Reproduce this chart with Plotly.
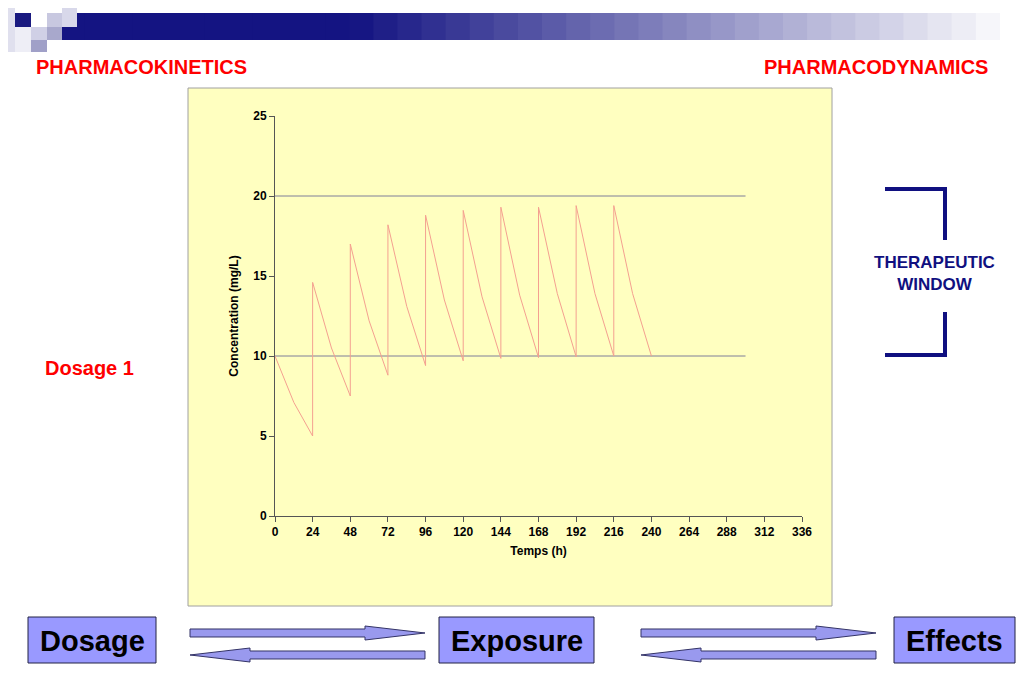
import plotly.graph_objects as go

times = [0, 12, 24, 24, 36, 48, 48, 60, 72, 72, 84, 96, 96, 108, 120, 120, 132, 144, 144, 156, 168, 168, 180, 192, 192, 204, 216, 216, 228, 240]
conc = [10.0, 7.1, 5.0, 14.6, 10.5, 7.5, 17.0, 12.2, 8.8, 18.2, 13.1, 9.4, 18.8, 13.5, 9.7, 19.1, 13.7, 9.85, 19.3, 13.8, 9.9, 19.3, 13.9, 9.95, 19.4, 13.9, 10.0, 19.4, 13.9, 10.0]
window_x = [0, 300]
window_low = [10, 10]
window_high = [20, 20]
x_ticks = list(range(0, 337, 24))
y_ticks = [0, 5, 10, 15, 20, 25]

OFF = 8
W, H = 1024 - 2 * OFF, 682 - 2 * OFF
def px(x): return (x - OFF) / W
def py(y): return 1 - (y - OFF) / H

F = "Liberation Sans, Arial, sans-serif"
fig = go.Figure()
fig.add_trace(go.Scatter(x=window_x, y=window_low, mode="lines", line=dict(color="#7f7f99", width=1), hoverinfo="skip"))
fig.add_trace(go.Scatter(x=window_x, y=window_high, mode="lines", line=dict(color="#7f7f99", width=1), hoverinfo="skip"))
fig.add_trace(go.Scatter(x=times, y=conc, mode="lines", line=dict(color="#f4a090", width=1)))

shapes = []
shapes.append(dict(type="rect", xref="paper", yref="paper", x0=px(188), x1=px(832), y0=py(606), y1=py(88),
                   fillcolor="#ffffc0", line=dict(color="#a0a0a0", width=1), layer="below"))
n = 40
x_start, x_end = 60, 1024
for i in range(n):
    t = i / (n - 1)
    c0 = (20, 20, 130); c1 = (255, 255, 255)
    tt = max(0, (t - 0.3) / 0.7)
    col = tuple(int(c0[k] + (c1[k] - c0[k]) * tt) for k in range(3))
    xa = x_start + (x_end - x_start) * i / n
    xb = x_start + (x_end - x_start) * (i + 1) / n + 1
    shapes.append(dict(type="rect", xref="paper", yref="paper", x0=px(xa), x1=px(xb), y0=py(40), y1=py(13),
                       fillcolor="rgb(%d,%d,%d)" % col, line=dict(width=0)))
for (x0, y0, x1, y1, c) in [(0, 0, 15, 52, "#e0e0ee"), (15, 13, 31, 27, "#1a1a80"), (31, 27, 47, 40, "#d0d0e6"),
                            (47, 13, 62, 27, "#c8c8e0"), (62, 0, 77, 27, "#d8d8ea"), (47, 27, 62, 40, "#a8a8cc"),
                            (31, 40, 47, 52, "#a0a0c8"), (15, 27, 31, 52, "#eeeef6")]:
    shapes.append(dict(type="rect", xref="paper", yref="paper", x0=px(x0), x1=px(x1), y0=py(y1), y1=py(y0),
                       fillcolor=c, line=dict(width=0)))
shapes.append(dict(type="path", xref="paper", yref="paper",
                   path="M %f %f L %f %f L %f %f" % (px(885), py(189), px(945), py(189), px(945), py(240)),
                   line=dict(color="#101080", width=4)))
shapes.append(dict(type="path", xref="paper", yref="paper",
                   path="M %f %f L %f %f L %f %f" % (px(945), py(312), px(945), py(355), px(885), py(355)),
                   line=dict(color="#101080", width=4)))
def arrow_right(x0, x1, yc):
    return [(x0, yc - 4), (x1 - 60, yc - 4), (x1 - 60, yc - 7), (x1, yc), (x1 - 60, yc + 7), (x1 - 60, yc + 4), (x0, yc + 4)]
def arrow_left(x0, x1, yc):
    return [(x1, yc - 4), (x0 + 60, yc - 4), (x0 + 60, yc - 7), (x0, yc), (x0 + 60, yc + 7), (x0 + 60, yc + 4), (x1, yc + 4)]
for pts in [arrow_right(190, 425, 633), arrow_left(190, 425, 655), arrow_right(641, 876, 633), arrow_left(641, 876, 655)]:
    path = "M " + " L ".join("%f %f" % (px(a), py(b)) for a, b in pts) + " Z"
    shapes.append(dict(type="path", xref="paper", yref="paper", path=path,
                       fillcolor="#9999ee", line=dict(color="#333366", width=1)))
ann = []
for (x0, x1, label) in [(28, 156, "Dosage"), (439, 594, "Exposure"), (894, 1015, "Effects")]:
    shapes.append(dict(type="rect", xref="paper", yref="paper", x0=px(x0), x1=px(x1), y0=py(663), y1=py(617),
                       fillcolor="#9999ff", line=dict(color="#222244", width=1)))
    ann.append(dict(x=px((x0 + x1) / 2), y=py(641), xref="paper", yref="paper", text="<b>%s</b>" % label,
                    xanchor="center", yanchor="middle",
                    showarrow=False, font=dict(family=F, size=29, color="black")))

for (x, y, txt, size, color) in [(141, 67, "PHARMACOKINETICS", 20, "red"), (876, 67, "PHARMACODYNAMICS", 20, "red"),
                                 (89, 368, "Dosage 1", 20, "red"),
                                 (934, 273, "THERAPEUTIC<br>WINDOW", 17, "#101080")]:
    ann.append(dict(x=px(x), y=py(y), xref="paper", yref="paper", text="<b>%s</b>" % txt, showarrow=False,
                    xanchor="center", yanchor="middle",
                    font=dict(family=F, size=size, color=color)))

tf = dict(family=F, size=12, color="black", weight="bold")
fig.update_layout(
    width=W, height=H, margin=dict(l=0, r=0, t=0, b=0), showlegend=False,
    paper_bgcolor="white", plot_bgcolor="rgba(0,0,0,0)", shapes=shapes, annotations=ann,
    xaxis=dict(domain=[px(275), px(802)], range=[0, 336], tickvals=x_ticks, ticks="outside", ticklen=5,
               tickcolor="#555", showline=True, linecolor="#555", showgrid=False, zeroline=False,
               tickfont=tf, automargin=False,
               title=dict(text="<b>Temps (h)</b>", font=dict(family=F, size=12, color="black"), standoff=8)),
    yaxis=dict(domain=[py(516), py(116)], range=[0, 25], tickvals=y_ticks, ticks="outside", ticklen=5,
               tickcolor="#555", showline=True, linecolor="#555", showgrid=False, zeroline=False,
               tickfont=tf, automargin=False,
               title=dict(text="<b>Concentration (mg/L)</b>", font=dict(family=F, size=12, color="black"), standoff=12)),
)
fig.write_html("out.html")
